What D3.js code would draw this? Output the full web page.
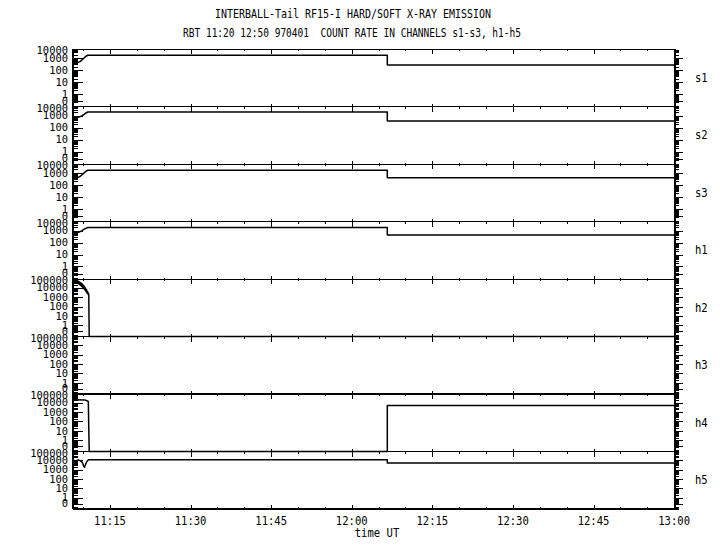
<!DOCTYPE html>
<html><head><meta charset="utf-8">
<script src="https://cdn.jsdelivr.net/npm/d3@7"></script>
<style>body{margin:0;background:#fff} svg{display:block} text{white-space:pre}</style>
</head><body><svg id="c" width="720" height="550"></svg>
<script>
// ---------------- data ----------------
const channels = ["s1","s2","s3","h1","h2","h3","h4","h5"];
const title1 = "INTERBALL-Tail RF15-I HARD/SOFT X-RAY EMISSION";
const title2 = "RBT 11:20 12:50 970401  COUNT RATE IN CHANNELS s1-s3, h1-h5";
const xTitle = "time UT";
const timeDomain = ["11:08:07","13:00:10"];
const xTickLabels = ["11:15","11:30","11:45","12:00","12:15","12:30","12:45","13:00"];
const yTickValuesLow  = [0.25, 1, 10, 100, 1000, 10000];
const yTickLabelsLow  = ["0","1","10","100","1000","10000"];
const yTickValuesHigh = [0.25, 1, 10, 100, 1000, 10000, 100000];
const yTickLabelsHigh = ["0","1","10","100","1000","10000","100000"];
const yMaxLow = 5500, yMaxHigh = 80000;

const s1Times  = ["11:08:25","11:09:00","11:09:25","11:09:50","11:10:15","11:10:35","11:10:54","12:06:37","12:06:37","13:00:10"];
const s1Values = [350, 420, 520, 750, 1100, 1500, 1740, 1740, 270, 270];
const s2Times  = ["11:08:15","11:08:45","11:09:15","11:09:45","11:10:15","11:10:35","11:10:54","12:06:37","12:06:37","13:00:10"];
const s2Values = [620, 650, 750, 950, 1350, 1750, 2000, 2000, 350, 350];
const s3Times  = ["11:08:25","11:09:00","11:09:25","11:09:50","11:10:15","11:10:35","11:10:54","12:06:37","12:06:37","13:00:10"];
const s3Values = [350, 420, 520, 750, 1100, 1500, 1740, 1740, 400, 400];
const h1Times  = ["11:08:15","11:08:45","11:09:15","11:09:45","11:10:15","11:10:35","11:10:54","12:06:37","12:06:37","13:00:10"];
const h1Values = [620, 650, 750, 950, 1350, 1600, 1800, 1800, 430, 430];
const h2Times  = ["11:08:15","11:08:21","11:08:27","11:08:33","11:08:39","11:08:45","11:08:51","11:08:57","11:09:03","11:09:09","11:09:15","11:09:21","11:09:27","11:09:33","11:09:39","11:09:45","11:09:51","11:09:57","11:10:03","11:10:09","11:10:15","11:10:21","11:10:27","11:10:33","11:10:39","11:10:45","11:10:51","11:10:57","11:11:03","11:11:08","13:00:10"];
const h2Values = [65000,38000,65000,36000,60000,33000,55000,30000,50000,26000,42000,21000,36000,17000,30000,13000,24000,10000,18000,7500,13000,5500,9000,3800,6000,2600,3800,1800,2200,0,0];
const h3Times  = ["11:08:15","13:00:10"];
const h3Values = [0, 0];
const h4Times  = ["11:08:15","11:10:20","11:10:40","11:10:58","11:11:08","12:06:37","12:06:37","13:00:10"];
const h4Values = [20000, 19000, 16000, 13000, 0, 0, 4900, 4900];
const h5Times  = ["11:08:15","11:08:40","11:09:05","11:09:30","11:09:50","11:10:05","11:10:15","11:10:30","11:10:45","11:11:00","12:06:37","12:06:37","13:00:10"];
const h5Values = [9000, 8000, 10000, 8500, 6000, 2500, 1700, 4000, 8000, 10500, 10500, 5000, 5000];

const seriesTimes  = [s1Times, s2Times, s3Times, h1Times, h2Times, h3Times, h4Times, h5Times];
const seriesValues = [s1Values, s2Values, s3Values, h1Values, h2Values, h3Values, h4Values, h5Values];

// ---------------- layout ----------------
const parseT = d3.timeParse("%H:%M:%S");
const parseHM = d3.timeParse("%H:%M");
const svg = d3.select("#c");
const left = 73, right = 675, plotTop = 49.3, plotBottom = 509;
const nP = channels.length;
const panelH = (plotBottom - plotTop) / nP;
const zeroOffset = 52;
const FONT = "'DejaVu Sans Mono','Liberation Mono',monospace";

const x = d3.scaleTime().domain(timeDomain.map(parseT)).range([left, right]);

function txt(g, px, py, s, anchor, sx, fs) {
  return g.append("text")
    .attr("transform", `translate(${px},${py}) scale(${sx || 0.88},1)`)
    .attr("text-anchor", anchor || "middle")
    .attr("dominant-baseline", "central")
    .attr("font-family", FONT).attr("font-size", fs || 12).attr("fill", "#000")
    .text(s);
}

// x ticks (5-minute minor, 15-minute major)
const [d0, d1] = x.domain();
const allX = d3.timeMinute.every(5).range(d0, new Date(+d1 + 1));
const majorX = allX.filter(d => d.getMinutes() % 15 === 0);
const minorX = allX.filter(d => d.getMinutes() % 15 !== 0);

const axesG = svg.append("g").attr("shape-rendering", "crispEdges");
const linesG = svg.append("g");
const textG = svg.append("g");

function stripDomain(g) { g.select(".domain").remove(); g.selectAll("text").remove(); }

for (let i = 0; i < nP; i++) {
  const top = plotTop + i * panelH, bottom = top + panelH;
  const hi = i >= 4;
  const vmax = hi ? yMaxHigh : yMaxLow;
  const tv = hi ? yTickValuesHigh : yTickValuesLow;
  const tl = hi ? yTickLabelsHigh : yTickLabelsLow;
  const decPx = zeroOffset / (Math.log10(vmax) - Math.log10(tv[0]));
  const vmin = Math.pow(10, Math.log10(vmax) - panelH / decPx);
  const y = d3.scaleLog().domain([vmin, vmax]).range([bottom, top]).clamp(true);

  const majors = tv.filter(v => v <= vmax);
  const minors = [];
  for (let d = -2; d <= 5; d++) for (let m = 1; m <= 9; m++) {
    const v = m * Math.pow(10, d);
    if (v >= vmin && v <= vmax && !majors.some(u => Math.abs(u - v) / v < 1e-6)) minors.push(v);
  }

  axesG.append("g").attr("transform", `translate(${left},0)`)
    .call(d3.axisRight(y).tickValues(minors).tickSize(5).tickFormat(""))
    .call(stripDomain);
  axesG.append("g").attr("transform", `translate(${left},0)`)
    .call(d3.axisRight(y).tickValues(majors).tickSize(10).tickFormat(""))
    .call(stripDomain);
  axesG.append("g").attr("transform", `translate(${right},0)`)
    .call(d3.axisRight(y).tickValues(minors).tickSize(4).tickFormat(""))
    .call(stripDomain);
  axesG.append("g").attr("transform", `translate(${right},0)`)
    .call(d3.axisRight(y).tickValues(majors).tickSize(8).tickFormat(""))
    .call(stripDomain);

  axesG.append("line").attr("x1", left).attr("x2", right).attr("y1", top).attr("y2", top)
    .attr("stroke", "#000").attr("stroke-width", 1.2);
  axesG.append("g").attr("transform", `translate(0,${top})`)
    .call(d3.axisBottom(x).tickValues(majorX).tickSize(5).tickFormat(""))
    .call(stripDomain);
  axesG.append("g").attr("transform", `translate(0,${top})`)
    .call(d3.axisBottom(x).tickValues(minorX).tickSize(2).tickFormat(""))
    .call(stripDomain);
  const last = i === nP - 1;
  axesG.append("g").attr("transform", `translate(0,${bottom})`)
    .call(d3.axisTop(x).tickValues(majorX).tickSize(last ? 4 : 3).tickFormat(""))
    .call(stripDomain);
  axesG.append("g").attr("transform", `translate(0,${bottom})`)
    .call(d3.axisTop(x).tickValues(minorX).tickSize(last ? 2 : 1).tickFormat(""))
    .call(stripDomain);

  tv.forEach((v, k) => {
    txt(textG, 68, Math.max(y(v), top + 1.5), tl[k], "end", 0.95, 11);
  });
  txt(textG, 695, top + panelH / 2, channels[i], "start");

  const pts = seriesTimes[i].map((t, k) => [x(parseT(t)), y(seriesValues[i][k])]);
  linesG.append("path").attr("d", d3.line()(pts))
    .attr("fill", "none").attr("stroke", "#000").attr("stroke-width", 1.5)
    .attr("stroke-linejoin", "round");
}

axesG.append("line").attr("x1", left).attr("x2", right).attr("y1", plotBottom).attr("y2", plotBottom)
  .attr("stroke", "#000").attr("stroke-width", 1.2);
axesG.append("line").attr("x1", left).attr("x2", left).attr("y1", plotTop).attr("y2", plotBottom)
  .attr("stroke", "#000").attr("stroke-width", 1.2);
axesG.append("line").attr("x1", right).attr("x2", right).attr("y1", plotTop).attr("y2", plotBottom)
  .attr("stroke", "#000").attr("stroke-width", 1.2);

xTickLabels.forEach(s => txt(textG, x(parseHM(s)), 521, s, "middle"));
txt(textG, 377, 533, xTitle, "middle");

textG.append("text").attr("x", 353).attr("y", 14).attr("text-anchor", "middle")
  .attr("dominant-baseline", "central").attr("font-family", FONT).attr("font-size", 12)
  .attr("textLength", 276).attr("lengthAdjust", "spacingAndGlyphs").text(title1);
textG.append("text").attr("x", 352).attr("y", 33).attr("text-anchor", "middle")
  .attr("dominant-baseline", "central").attr("font-family", FONT).attr("font-size", 12)
  .attr("xml:space", "preserve")
  .attr("textLength", 338).attr("lengthAdjust", "spacingAndGlyphs").text(title2);
</script>
</body></html>
